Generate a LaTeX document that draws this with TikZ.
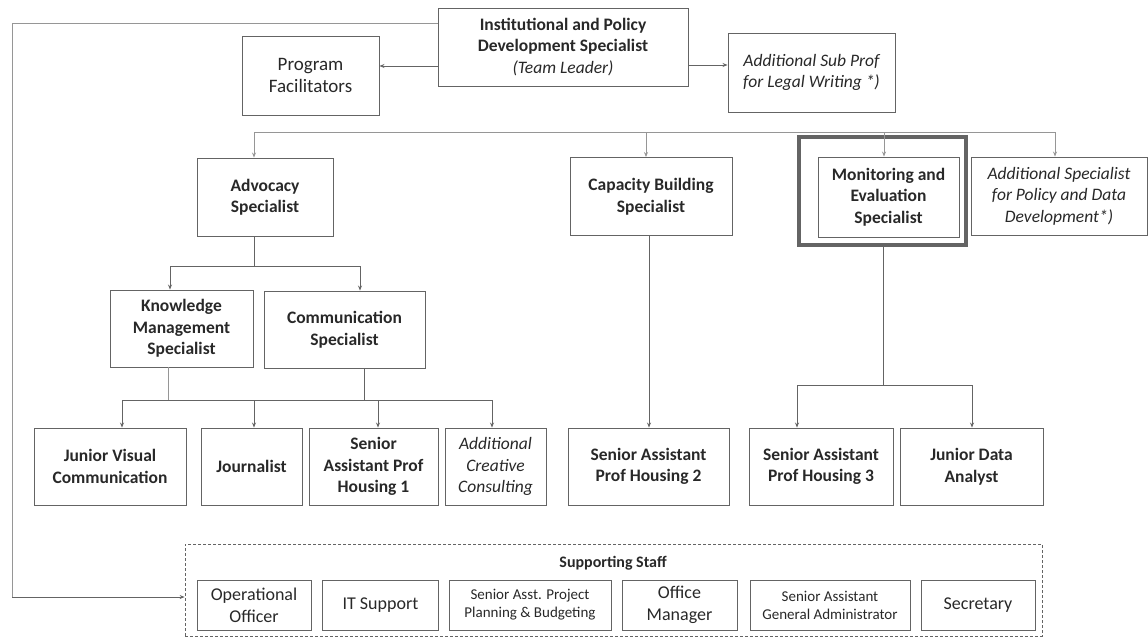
\documentclass[tikz,border=0pt]{standalone}
\usepackage{fontspec}
\setmainfont{Carlito}
\usetikzlibrary{arrows.meta}
\definecolor{linec}{RGB}{100,100,100}
\definecolor{busc}{RGB}{150,150,150}
\definecolor{textc}{RGB}{40,40,40}
\begin{document}
\begin{tikzpicture}[x=1pt,y=-1pt,
  box/.style={draw=linec, line width=0.9pt, align=center, inner sep=1pt, text=textc,
    font=\fontsize{17.5}{21.5}\selectfont\bfseries},
  plainbox/.style={box, font=\fontsize{19}{22}\selectfont},
  itbox/.style={box, font=\fontsize{17.5}{21.5}\selectfont\itshape},
  staffbox/.style={box, font=\fontsize{18}{22}\selectfont, minimum height=50pt},
  smallbox/.style={box, font=\fontsize{15}{18}\selectfont, minimum height=50pt},
  conn/.style={draw=linec, line width=0.8pt},
  lconn/.style={draw=busc, line width=0.8pt},
  arr/.style={-{Stealth[length=5pt,width=4pt]}},
]
\useasboundingbox (0,0) rectangle (1148,638);

% top level
\node[box, minimum width=250pt, minimum height=78pt] (tl) at (563,47)
  {Institutional and Policy\\Development Specialist\\{\mdseries\itshape (Team Leader)}};
\node[plainbox, minimum width=137pt, minimum height=79pt] (pf) at (310.5,75.5) {Program\\Facilitators};
\node[itbox, minimum width=167pt, minimum height=79pt] (asp) at (811.5,72.5) {Additional Sub Prof\\for Legal Writing *)};
\draw[conn,arr] (tl.west |- 0,66) -- (pf.east |- 0,66);
\draw[conn,arr] (tl.east |- 0,65) -- (asp.west |- 0,65);

% second level
\node[box, minimum width=136pt, minimum height=78pt] (adv) at (265,197) {Advocacy\\Specialist};
\node[box, minimum width=162pt, minimum height=78pt] (cap) at (651,196.5) {Capacity Building\\Specialist};
\node[draw=linec, line width=4pt, minimum width=167pt, minimum height=108pt] (meo) at (882.5,191) {};
\node[box, minimum width=141pt, minimum height=80pt] (me) at (888.5,197) {Monitoring and\\Evaluation\\Specialist};
\node[itbox, minimum width=176pt, minimum height=78pt] (aspd) at (1059,196) {Additional Specialist\\for Policy and Data\\Development*)};

\coordinate (busL) at (254,132);
\coordinate (busR) at (1055,132);
\draw[lconn] (busL) -- (busR);
\draw[lconn,arr] (busL) -- (busL |- adv.north);
\draw[lconn,arr] (646,132) -- (646,0 |- cap.north);
\draw[lconn,arr] (884,132) -- (884,0 |- me.north);
\draw[lconn,arr] (busR) -- (busR |- aspd.north);

% advocacy branch
\node[box, minimum width=143pt, minimum height=77pt] (kms) at (181.5,328.5) {Knowledge\\Management\\Specialist};
\node[box, minimum width=161pt, minimum height=77pt] (comm) at (344.5,329.5) {Communication\\Specialist};
\coordinate (advJ) at (254,266);
\draw[conn] (254,0 |- adv.south) -- (advJ);
\draw[conn,arr] (advJ) -| (170,0 |- kms.north);
\draw[conn,arr] (advJ) -| (360,0 |- comm.north);

% bottom row
\node[box, minimum width=152pt, minimum height=77pt] (jvc) at (110,466.5) {Junior Visual\\Communication};
\node[box, minimum width=101pt, minimum height=77pt] (jour) at (251.5,466.5) {Journalist};
\node[box, minimum width=129pt, minimum height=77pt] (saph1) at (373.5,466.5) {Senior\\Assistant Prof\\Housing 1};
\node[itbox, minimum width=101pt, minimum height=77pt] (acc) at (495.5,466.5) {Additional\\Creative\\Consulting};
\node[box, minimum width=161pt, minimum height=77pt] (saph2) at (648.5,466.5) {Senior Assistant\\Prof Housing 2};
\node[box, minimum width=144pt, minimum height=77pt] (saph3) at (821,466.5) {Senior Assistant\\Prof Housing 3};
\node[box, minimum width=143pt, minimum height=77pt] (jda) at (971.5,466.5) {Junior Data\\Analyst};

\coordinate (lbL) at (122,400);
\coordinate (lbR) at (492,400);
\draw[lconn] (168,0 |- kms.south) -- (168,400);
\draw[conn] (364,0 |- comm.south) -- (364,400);
\draw[conn] (lbL) -- (lbR);
\draw[conn,arr] (lbL) -- (lbL |- jvc.north);
\draw[conn,arr] (254,400) -- (254,0 |- jour.north);
\draw[conn,arr] (378,400) -- (378,0 |- saph1.north);
\draw[conn,arr] (lbR) -- (lbR |- acc.north);

\draw[conn,arr] (649,0 |- cap.south) -- (649,0 |- saph2.north);

\coordinate (meJ) at (883,385);
\draw[conn] (883,0 |- meo.south) -- (meJ);
\draw[conn,arr] (meJ) -| (797,0 |- saph3.north);
\draw[conn,arr] (meJ) -| (972,0 |- jda.north);

% supporting staff
\node[draw=linec, line width=0.8pt, dash pattern=on 3pt off 2pt, minimum width=857pt, minimum height=92pt] (ss) at (613.5,590) {};
\node[text=textc, font=\fontsize{16}{20}\selectfont\bfseries] (sst) at (613,563) {Supporting Staff};
\node[staffbox, minimum width=114pt] (op) at (254,605) {Operational\\Officer};
\node[staffbox, minimum width=116pt] (it) at (380.5,605) {IT Support};
\node[smallbox, minimum width=162pt] (spb) at (530,605) {Senior Asst. Project\\Planning \& Budgeting};
\node[staffbox, minimum width=115pt] (om) at (679.5,605) {Office\\Manager};
\node[smallbox, minimum width=160pt] (sga) at (830,605) {Senior Assistant\\General Administrator};
\node[staffbox, minimum width=114pt] (sec) at (978,605) {Secretary};

% left feedback line
\coordinate (lt) at (12,23);
\coordinate (lb) at (12,597);
\draw[lconn] (tl.west |- lt) -- (lt) -- (lb);
\draw[conn,arr] (lb) -- (ss.west |- lb);
\end{tikzpicture}
\end{document}
